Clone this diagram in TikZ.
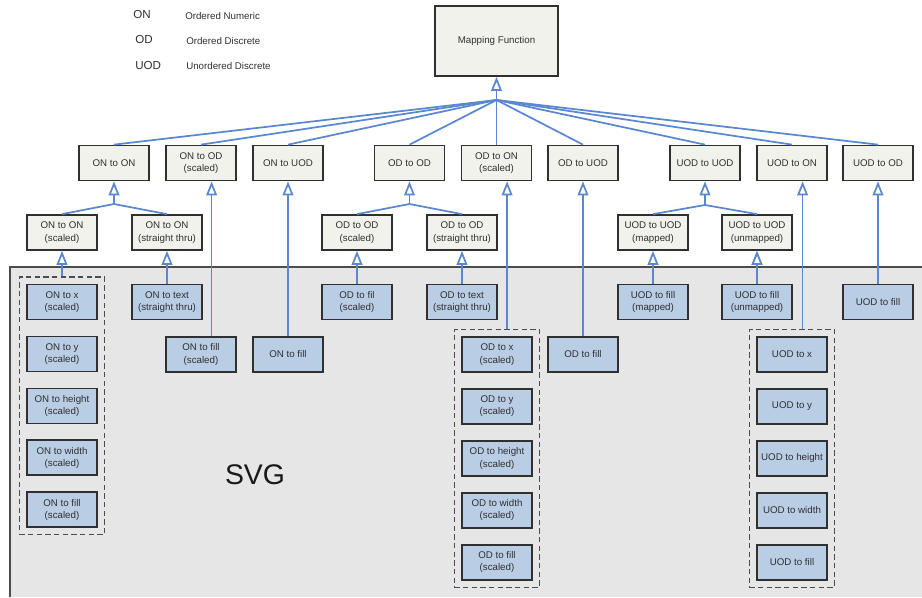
\documentclass[tikz,border=0pt]{standalone}
\usepackage{fontspec}
\setmainfont{Liberation Sans}
\usetikzlibrary{arrows.meta,positioning,fit}
\definecolor{boxgray}{HTML}{F2F2EC}
\definecolor{boxblue}{HTML}{B9CDE5}
\definecolor{linkblue}{HTML}{5A87CF}
\definecolor{framegray}{HTML}{E6E6E6}
\definecolor{inkgray}{HTML}{303030}

\begin{document}
\begin{tikzpicture}[x=0.75pt, y=-0.75pt, font=\fontsize{7.3}{9.2}\selectfont, text=inkgray]
            \tikzstyle{funcbox} = [shape=rectangle, draw=inkgray, fill=boxgray, line width=1.3pt, minimum width=52.5pt, minimum height=26.25pt, inner sep=2pt, align=center, node distance=11.4pt];
\tikzstyle{svgbox} = [funcbox, fill=boxblue];
\tikzstyle{dashgroup} = [draw=black!70, dash pattern=on 4pt off 2.5pt, line width=1pt, inner sep=5pt];
\tikzstyle{legendtxt} = [anchor=west, inner sep=0pt];
\tikzstyle{link} = [draw=linkblue, line width=1.3pt];
\tikzstyle{upto} = [link, {Triangle[fill=white, length=10.5pt, width=8pt]}-];

\useasboundingbox (0,0) rectangle (922,597);

% SVG area
\fill[framegray] (10,267) rectangle (922,597);
\draw[black!70, line width=1pt] (10,597) |- (922,267);
\node[font=\fontsize{21.3}{24}\selectfont, text=black!90] (SVG) at (255,475) {SVG};

% legend
\node[legendtxt, font=\fontsize{8.7}{10}\selectfont] (ONabbr) at (133,15) {ON};
\node[legendtxt, font=\fontsize{8.7}{10}\selectfont] (ODabbr) at (135,40) {OD};
\node[legendtxt, font=\fontsize{8.7}{10}\selectfont] (UODabbr) at (135,66) {UOD};
\node[legendtxt] (ONmeaning) at (185,16) {Ordered Numeric};
\node[legendtxt] (ODmeaning) at (186,41) {Ordered Discrete};
\node[legendtxt] (UODmeaning) at (186,66) {Unordered Discrete};

\node[funcbox, minimum width=92pt, minimum height=52.5pt] (Mapping) at (496.5,41) {Mapping Function};
\coordinate (Hub) at (496.5,100);

\node[funcbox] (ONtoON) at (114,163) {ON to ON};
\node[funcbox] (ONtoOD) at (201,163) {ON to OD\\(scaled)};
\node[funcbox] (ONtoUOD) at (288,163) {ON to UOD};
\node[funcbox] (ODtoOD) at (409.5,163) {OD to OD};
\node[funcbox] (ODtoON) at (496.5,163) {OD to ON\\(scaled)};
\node[funcbox] (ODtoUOD) at (583,163) {OD to UOD};
\node[funcbox] (UODtoUOD) at (705,163) {UOD to UOD};
\node[funcbox] (UODtoON) at (792,163) {UOD to ON};
\node[funcbox] (UODtoOD) at (878,163) {UOD to OD};

\coordinate (ONsplit) at (114,204);
\coordinate (ODsplit) at (409.5,204);
\coordinate (UODsplit) at (705,205);
\node[funcbox] (ONtoONscaled) at (62,232.5) {ON to ON\\(scaled)};
\node[funcbox] (ONtoONthru) at (167,232.5) {ON to ON\\(straight thru)};
\node[funcbox] (ODtoODscaled) at (357,232.5) {OD to OD\\(scaled)};
\node[funcbox] (ODtoODthru) at (462,232.5) {OD to OD\\(straight thru)};
\node[funcbox] (UODtoUODmapped) at (653,232.5) {UOD to UOD\\(mapped)};
\node[funcbox] (UODtoUODunmapped) at (757,232.5) {UOD to UOD\\(unmapped)};

\node[svgbox] (ONtoX) at (62,302) {ON to x\\(scaled)};
\node[svgbox, below=of ONtoX] (ONtoY) {ON to y\\(scaled)};
\node[svgbox, below=of ONtoY] (ONtoHeight) {ON to height\\(scaled)};
\node[svgbox, below=of ONtoHeight] (ONtoWidth) {ON to width\\(scaled)};
\node[svgbox, below=of ONtoWidth] (ONtoFillScaled) {ON to fill\\(scaled)};
\node[svgbox] (ONtoText) at (167,302) {ON to text\\(straight thru)};
\node[svgbox] (ONtoFillOD) at (201,354.5) {ON to fill\\(scaled)};
\node[svgbox] (ONtoFill) at (288,354.5) {ON to fill};

\node[svgbox] (ODtoFil) at (357,302) {OD to fil\\(scaled)};
\node[svgbox] (ODtoText) at (462,302) {OD to text\\(straight thru)};
\node[svgbox] (ODtoX) at (497,354.5) {OD to x\\(scaled)};
\node[svgbox, below=of ODtoX] (ODtoY) {OD to y\\(scaled)};
\node[svgbox, below=of ODtoY] (ODtoHeight) {OD to height\\(scaled)};
\node[svgbox, below=of ODtoHeight] (ODtoWidth) {OD to width\\(scaled)};
\node[svgbox, below=of ODtoWidth] (ODtoFillScaled) {OD to fill\\(scaled)};
\node[svgbox] (ODtoFill) at (583,354.5) {OD to fill};

\node[svgbox] (UODtoFillMapped) at (653,302) {UOD to fill\\(mapped)};
\node[svgbox] (UODtoFillUnmapped) at (757,302) {UOD to fill\\(unmapped)};
\node[svgbox] (UODtoFill) at (878,302) {UOD to fill};
\node[svgbox] (UODtoX) at (792,354.5) {UOD to x};
\node[svgbox, below=of UODtoX] (UODtoY) {UOD to y};
\node[svgbox, below=of UODtoY] (UODtoHeight) {UOD to height};
\node[svgbox, below=of UODtoHeight] (UODtoWidth) {UOD to width};
\node[svgbox, below=of UODtoWidth] (UODtoFillAny) {UOD to fill};

\node[dashgroup, fit=(ONtoX)(ONtoFillScaled)] (ONgroup) {};
\node[dashgroup, fit=(ODtoX)(ODtoFillScaled)] (ODgroup) {};
\node[dashgroup, fit=(UODtoX)(UODtoFillAny)] (UODgroup) {};

\draw[link]
    (Hub) edge (ONtoON.north)
    (Hub) edge (ONtoOD.north)
    (Hub) edge (ONtoUOD.north)
    (Hub) edge (ODtoOD.north)
    (Hub) edge (ODtoON.north)
    (Hub) edge (ODtoUOD.north)
    (Hub) edge (UODtoUOD.north)
    (Hub) edge (UODtoON.north)
    (Hub) edge (UODtoOD.north)
    (ONsplit) edge (ONtoONscaled.north)
    (ONsplit) edge (ONtoONthru.north)
    (ODsplit) edge (ODtoODscaled.north)
    (ODsplit) edge (ODtoODthru.north)
    (UODsplit) edge (UODtoUODmapped.north)
    (UODsplit) edge (UODtoUODunmapped.north)
;
\draw[upto]
    (Mapping.south) edge (Hub)
    (ONtoON.south) edge (ONsplit)
    (ODtoOD.south) edge (ODsplit)
    (UODtoUOD.south) edge (UODsplit)
    (ONtoOD.-60) edge (ONtoFillOD.60)
    (ONtoUOD.south) edge (ONtoFill.north)
    (ODtoON.-60) edge (ODtoON.-60 |- ODgroup.north)
    (ODtoUOD.south) edge (ODtoFill.north)
    (UODtoON.-60) edge (UODtoON.-60 |- UODgroup.north)
    (UODtoOD.south) edge (UODtoFill.north)
    (ONtoONscaled.south) edge (ONgroup.north)
    (ONtoONthru.south) edge (ONtoText.north)
    (ODtoODscaled.south) edge (ODtoFil.north)
    (ODtoODthru.south) edge (ODtoText.north)
    (UODtoUODmapped.south) edge (UODtoFillMapped.north)
    (UODtoUODunmapped.south) edge (UODtoFillUnmapped.north)
;
        \end{tikzpicture}
\end{document}
